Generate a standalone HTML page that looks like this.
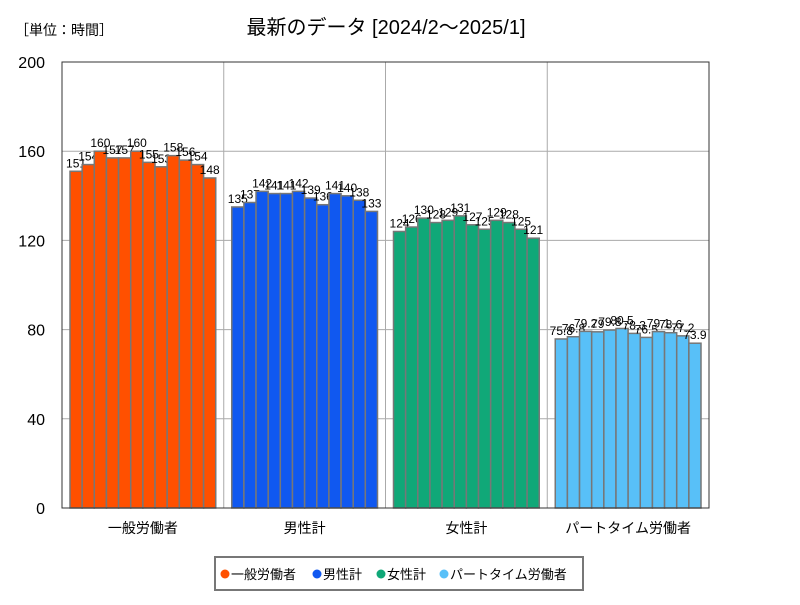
<!DOCTYPE html>
<html><head><meta charset="utf-8"><style>
body{margin:0;background:#fff;}
svg text{font-family:"Liberation Sans","Noto Sans CJK JP",sans-serif;}
</style></head><body>
<svg id="chart" width="800" height="600" xmlns="http://www.w3.org/2000/svg">
<text x="15" y="35" font-size="14" fill="#000">［単位：時間］</text>
<text x="386" y="34" font-size="20" text-anchor="middle" fill="#000">最新のデータ [2024/2～2025/1]</text>
<g id="grid"></g>
<g id="bars"></g>
<rect x="62" y="62" width="647" height="446" fill="none" stroke="#333" stroke-width="1"/>
<g>
<rect x="215" y="557" width="368" height="33" fill="#fff" stroke="#777" stroke-width="2"/>
<circle cx="225" cy="574" r="4.5" fill="#ff5000"/><text x="231" y="579" font-size="13">一般労働者</text>
<circle cx="317" cy="574" r="4.5" fill="#1058f0"/><text x="323" y="579" font-size="13">男性計</text>
<circle cx="381" cy="574" r="4.5" fill="#10a878"/><text x="387" y="579" font-size="13">女性計</text>
<circle cx="444" cy="574" r="4.5" fill="#58c0f8"/><text x="450" y="579" font-size="13">パートタイム労働者</text>
</g>
</svg>
<script>
const categories=["一般労働者","男性計","女性計","パートタイム労働者"];
const seriesGeneral=[151,154,160,157,157,160,155,153,158,156,154,148];
const seriesMale=[135,137,142,141,141,142,139,136,141,140,138,133];
const seriesFemale=[124,126,130,128,129,131,127,125,129,128,125,121];
const seriesPart=[75.8,76.8,79.2,79.0,79.8,80.5,78.3,76.5,79.1,78.6,77.2,73.9];
const yTicks=[0,40,80,120,160,200];
const colors=["#ff5000","#1058f0","#10a878","#58c0f8"];
const allSeries=[seriesGeneral,seriesMale,seriesFemale,seriesPart];
const NS="http://www.w3.org/2000/svg";
const L=62,R=709,T=62,B=508,YMAX=200;
const y=v=>B-v/YMAX*(B-T);
const gw=(R-L)/categories.length;
const grid=document.getElementById('grid'),bars=document.getElementById('bars');
function mk(tag,attrs,parent){const e=document.createElementNS(NS,tag);for(const k in attrs)e.setAttribute(k,attrs[k]);parent.appendChild(e);return e;}
yTicks.forEach(t=>{
  if(t>0&&t<YMAX){const l=mk('line',{x1:L,x2:R,y1:y(t),y2:y(t),stroke:'#aaa','stroke-width':1},grid);
  
  }
  const tx=mk('text',{x:45,y:y(t)+6,'font-size':16,'text-anchor':'end'},grid);
  tx.textContent=t;
  
  
});
categories.forEach((c,i)=>{
  if(i>0){const l=mk('line',{x1:L+gw*i,x2:L+gw*i,y1:T,y2:B,stroke:'#aaa','stroke-width':1},grid);
  
  }
  const tx=mk('text',{x:L+gw*i+gw/2,y:533,'font-size':14,'text-anchor':'middle'},grid);
  tx.textContent=c;
  
  
  const s=allSeries[i],n=s.length,pad=8,bw=(gw-2*pad)/n;
  s.forEach((v,j)=>{
    const x0=L+gw*i+pad+bw*j;
    const r=mk('rect',{x:x0,y:y(v),width:bw,height:B-y(v),fill:colors[i],stroke:'#777','stroke-width':1.5},bars);
    
    
    const lb=mk('text',{x:x0+bw/2,y:y(v)-4,'font-size':12,'text-anchor':'middle'},bars);
    lb.textContent=String(Math.round(v*10)/10);
    
    
  });
});
</script>
</body></html>
